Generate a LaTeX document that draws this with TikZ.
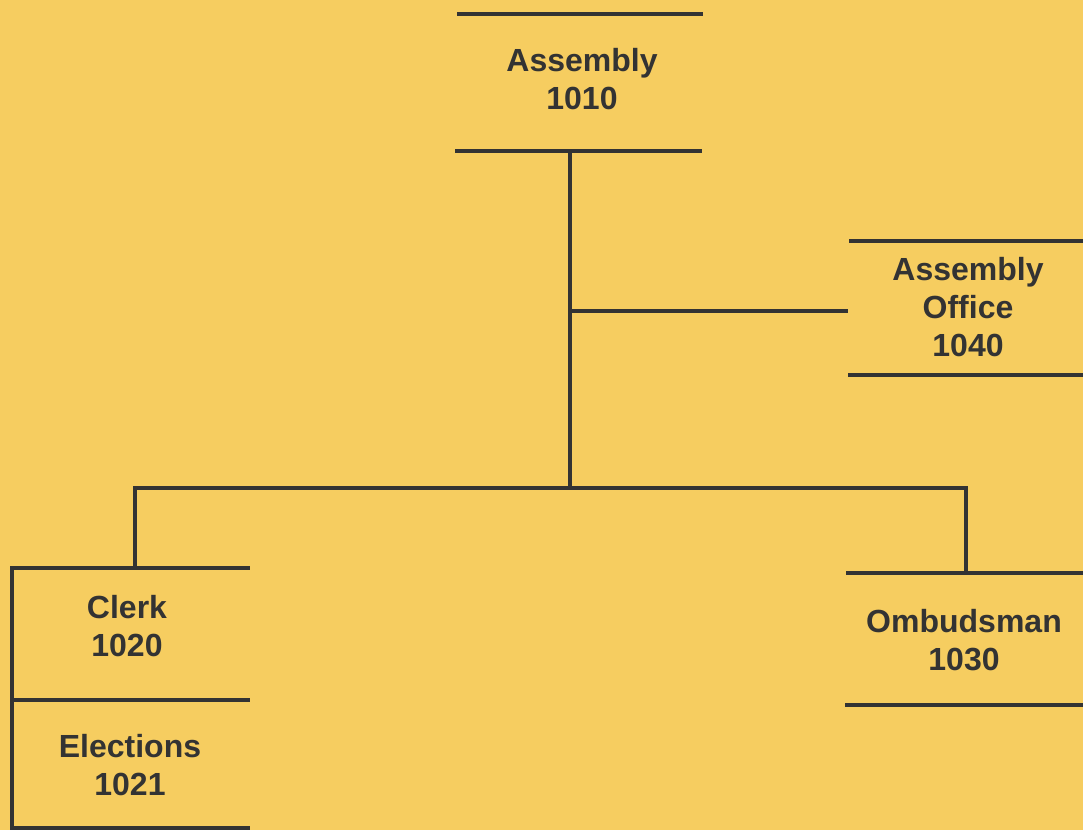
\documentclass[tikz,border=0pt]{standalone}
\usepackage{fontspec}
\setmainfont{Liberation Sans}
\definecolor{bg}{HTML}{F6CD60}
\definecolor{ink}{HTML}{333333}
\begin{document}
\begin{tikzpicture}[x=1pt,y=-1pt,
  bar/.style={draw=ink,line width=4.5pt},
  wire/.style={draw=ink,line width=4.5pt},
  lbl/.style={text=ink,font=\fontsize{32}{38}\selectfont\bfseries,align=center,inner sep=0pt}]
\fill[bg] (0,0) rectangle (1083,830);
\useasboundingbox (0,0) rectangle (1083,830);
% Assembly 1010
\draw[bar] (457,14) -- (703,14);
\draw[bar] (455,151) -- (702,151);
\node[lbl] (asm) at (582,79) {Assembly\\1010};
\coordinate (asmb) at (570,151);
% Assembly Office 1040
\draw[bar] (849,241) -- (1083,241);
\draw[bar] (848,375) -- (1083,375);
\node[lbl] (off) at (968,307) {Assembly\\Office\\1040};
\coordinate (offl) at (848,311);
% Clerk / Elections
\draw[bar] (10,568) -- (250,568);
\draw[bar] (12,700) -- (250,700);
\draw[bar] (10,828) -- (250,828);
\draw[bar] (12,566) -- (12,830);
\node[lbl] (clerk) at (127,626) {Clerk\\1020};
\node[lbl] (elec) at (130,765) {Elections\\1021};
\coordinate (clerkt) at (135,568);
% Ombudsman
\draw[bar] (846,573) -- (1083,573);
\draw[bar] (845,705) -- (1083,705);
\node[lbl] (omb) at (964,640) {Ombudsman\\1030};
\coordinate (ombt) at (966,573);
% connectors
\coordinate (j1) at (570,311);
\coordinate (j2) at (570,488);
\draw[wire] (asmb) -- (j2);
\draw[wire] (j1) -- (offl);
\draw[wire,line join=miter] (clerkt) |- (j2) -| (ombt);
\end{tikzpicture}
\end{document}
